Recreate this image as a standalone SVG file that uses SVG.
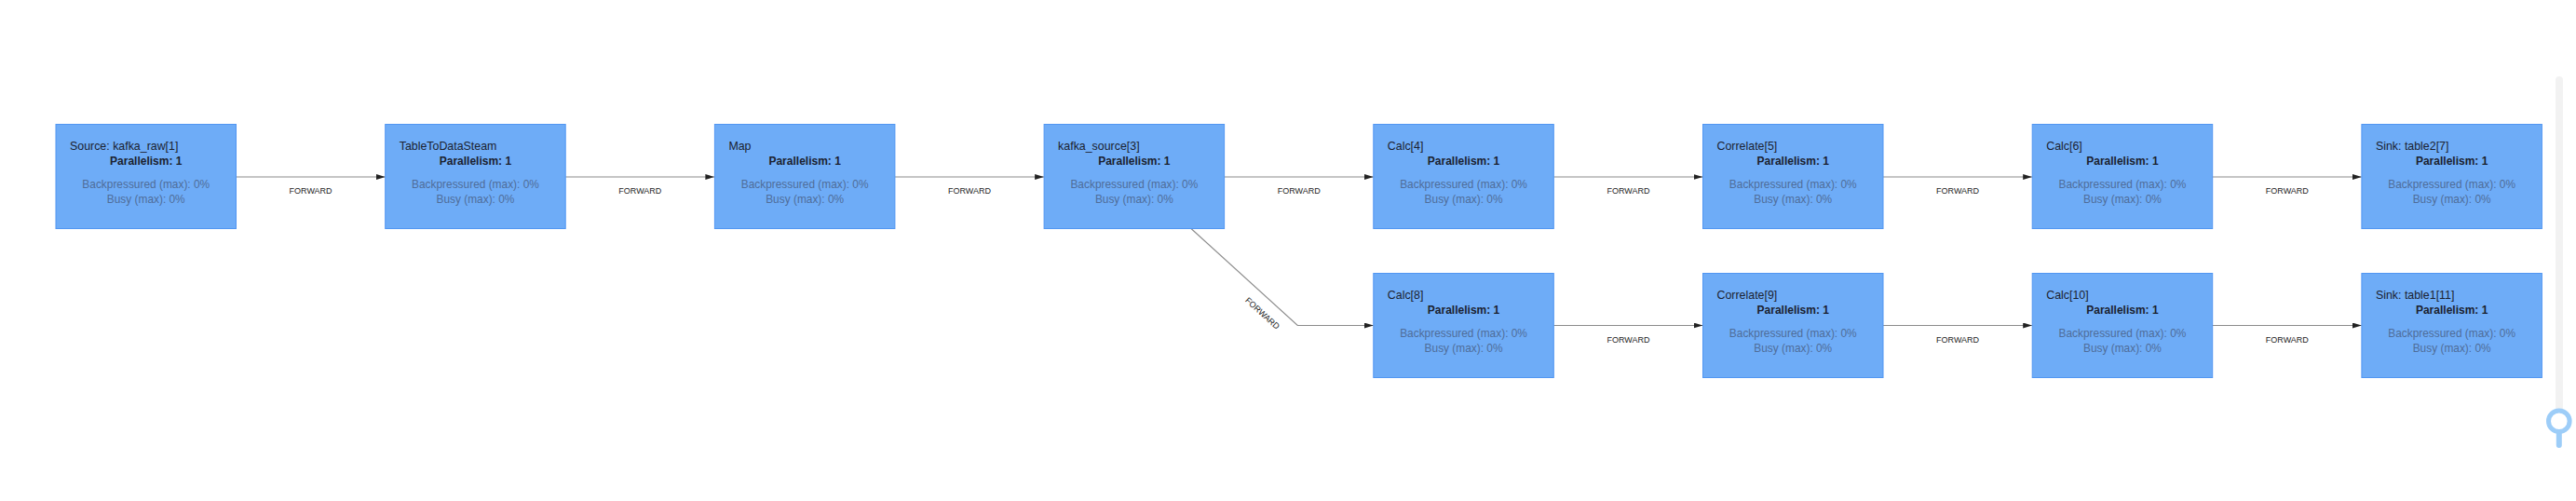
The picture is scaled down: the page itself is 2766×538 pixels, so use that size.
<svg xmlns="http://www.w3.org/2000/svg" width="2766" height="538" viewBox="0 0 2766 538">
<style>
.box{fill:#6eacf7;stroke:#5196f2;stroke-width:1}
.t{font-family:"Liberation Sans",Arial,sans-serif;font-size:12.4px;fill:#1b2230}
.p{font-family:"Liberation Sans",Arial,sans-serif;font-size:12px;font-weight:bold;fill:#1b2230;text-anchor:middle}
.s{font-family:"Liberation Sans",Arial,sans-serif;font-size:11.9px;fill:#4f6d99;text-anchor:middle}
.e{fill:none;stroke:#8c8c8c;stroke-width:1.2}
.l{font-family:"Liberation Sans",Arial,sans-serif;font-size:9px;fill:#222;text-anchor:middle}
</style>
<defs>
<marker id="arr" viewBox="0 0 10 6" refX="10" refY="3" markerWidth="10" markerHeight="6" markerUnits="userSpaceOnUse" orient="auto">
<path d="M0,0 L10,3 L0,6 z" fill="#222"/>
</marker>
</defs>
<rect width="2766" height="538" fill="#ffffff"/>
<g id="connectors">
<line class="e" x1="253.5" y1="190" x2="413.7" y2="190" marker-end="url(#arr)"/>
<text class="l" x="333.6" y="208">FORWARD</text>
<line class="e" x1="607.2" y1="190" x2="767.4" y2="190" marker-end="url(#arr)"/>
<text class="l" x="687.3" y="208">FORWARD</text>
<line class="e" x1="960.9" y1="190" x2="1121.1" y2="190" marker-end="url(#arr)"/>
<text class="l" x="1041" y="208">FORWARD</text>
<line class="e" x1="1314.6" y1="190" x2="1474.8" y2="190" marker-end="url(#arr)"/>
<text class="l" x="1394.7" y="208">FORWARD</text>
<line class="e" x1="1668.3" y1="190" x2="1828.5" y2="190" marker-end="url(#arr)"/>
<text class="l" x="1748.4" y="208">FORWARD</text>
<line class="e" x1="2022" y1="190" x2="2182.2" y2="190" marker-end="url(#arr)"/>
<text class="l" x="2102.1" y="208">FORWARD</text>
<line class="e" x1="2375.7" y1="190" x2="2535.9" y2="190" marker-end="url(#arr)"/>
<text class="l" x="2455.8" y="208">FORWARD</text>
<polyline class="e" points="1279,245.5 1393.3,349.5 1474.8,349.5" marker-end="url(#arr)"/>
<text class="l" transform="translate(1355.5,336.5) rotate(42.4)" y="3">FORWARD</text>
<line class="e" x1="1668.3" y1="349.5" x2="1828.5" y2="349.5" marker-end="url(#arr)"/>
<text class="l" x="1748.4" y="367.5">FORWARD</text>
<line class="e" x1="2022" y1="349.5" x2="2182.2" y2="349.5" marker-end="url(#arr)"/>
<text class="l" x="2102.1" y="367.5">FORWARD</text>
<line class="e" x1="2375.7" y1="349.5" x2="2535.9" y2="349.5" marker-end="url(#arr)"/>
<text class="l" x="2455.8" y="367.5">FORWARD</text>
</g>
<g id="n1" transform="translate(60,133.5)">
<rect class="box" width="193.5" height="112"/>
<text class="t" x="15" y="27.4">Source: kafka_raw[1]</text>
<text class="p" x="96.75" y="43.4">Parallelism: 1</text>
<text class="s" x="96.75" y="68.3">Backpressured (max): 0%</text>
<text class="s" x="96.75" y="84">Busy (max): 0%</text>
</g>
<g id="n2" transform="translate(413.7,133.5)">
<rect class="box" width="193.5" height="112"/>
<text class="t" x="15" y="27.4">TableToDataSteam</text>
<text class="p" x="96.75" y="43.4">Parallelism: 1</text>
<text class="s" x="96.75" y="68.3">Backpressured (max): 0%</text>
<text class="s" x="96.75" y="84">Busy (max): 0%</text>
</g>
<g id="n3" transform="translate(767.4,133.5)">
<rect class="box" width="193.5" height="112"/>
<text class="t" x="15" y="27.4">Map</text>
<text class="p" x="96.75" y="43.4">Parallelism: 1</text>
<text class="s" x="96.75" y="68.3">Backpressured (max): 0%</text>
<text class="s" x="96.75" y="84">Busy (max): 0%</text>
</g>
<g id="n4" transform="translate(1121.1,133.5)">
<rect class="box" width="193.5" height="112"/>
<text class="t" x="15" y="27.4">kafka_source[3]</text>
<text class="p" x="96.75" y="43.4">Parallelism: 1</text>
<text class="s" x="96.75" y="68.3">Backpressured (max): 0%</text>
<text class="s" x="96.75" y="84">Busy (max): 0%</text>
</g>
<g id="n5" transform="translate(1474.8,133.5)">
<rect class="box" width="193.5" height="112"/>
<text class="t" x="15" y="27.4">Calc[4]</text>
<text class="p" x="96.75" y="43.4">Parallelism: 1</text>
<text class="s" x="96.75" y="68.3">Backpressured (max): 0%</text>
<text class="s" x="96.75" y="84">Busy (max): 0%</text>
</g>
<g id="n6" transform="translate(1828.5,133.5)">
<rect class="box" width="193.5" height="112"/>
<text class="t" x="15" y="27.4">Correlate[5]</text>
<text class="p" x="96.75" y="43.4">Parallelism: 1</text>
<text class="s" x="96.75" y="68.3">Backpressured (max): 0%</text>
<text class="s" x="96.75" y="84">Busy (max): 0%</text>
</g>
<g id="n7" transform="translate(2182.2,133.5)">
<rect class="box" width="193.5" height="112"/>
<text class="t" x="15" y="27.4">Calc[6]</text>
<text class="p" x="96.75" y="43.4">Parallelism: 1</text>
<text class="s" x="96.75" y="68.3">Backpressured (max): 0%</text>
<text class="s" x="96.75" y="84">Busy (max): 0%</text>
</g>
<g id="n8" transform="translate(2535.9,133.5)">
<rect class="box" width="193.5" height="112"/>
<text class="t" x="15" y="27.4">Sink: table2[7]</text>
<text class="p" x="96.75" y="43.4">Parallelism: 1</text>
<text class="s" x="96.75" y="68.3">Backpressured (max): 0%</text>
<text class="s" x="96.75" y="84">Busy (max): 0%</text>
</g>
<g id="n9" transform="translate(1474.8,293.5)">
<rect class="box" width="193.5" height="112"/>
<text class="t" x="15" y="27.4">Calc[8]</text>
<text class="p" x="96.75" y="43.4">Parallelism: 1</text>
<text class="s" x="96.75" y="68.3">Backpressured (max): 0%</text>
<text class="s" x="96.75" y="84">Busy (max): 0%</text>
</g>
<g id="n10" transform="translate(1828.5,293.5)">
<rect class="box" width="193.5" height="112"/>
<text class="t" x="15" y="27.4">Correlate[9]</text>
<text class="p" x="96.75" y="43.4">Parallelism: 1</text>
<text class="s" x="96.75" y="68.3">Backpressured (max): 0%</text>
<text class="s" x="96.75" y="84">Busy (max): 0%</text>
</g>
<g id="n11" transform="translate(2182.2,293.5)">
<rect class="box" width="193.5" height="112"/>
<text class="t" x="15" y="27.4">Calc[10]</text>
<text class="p" x="96.75" y="43.4">Parallelism: 1</text>
<text class="s" x="96.75" y="68.3">Backpressured (max): 0%</text>
<text class="s" x="96.75" y="84">Busy (max): 0%</text>
</g>
<g id="n12" transform="translate(2535.9,293.5)">
<rect class="box" width="193.5" height="112"/>
<text class="t" x="15" y="27.4">Sink: table1[11]</text>
<text class="p" x="96.75" y="43.4">Parallelism: 1</text>
<text class="s" x="96.75" y="68.3">Backpressured (max): 0%</text>
<text class="s" x="96.75" y="84">Busy (max): 0%</text>
</g>
<g id="zoom-slider">
<rect x="2744" y="82" width="8" height="366" rx="4" fill="#f2f2f2"/>
<line x1="2747.8" y1="466" x2="2747.8" y2="478" stroke="#9dcdf8" stroke-width="6" stroke-linecap="round"/>
<circle cx="2747.8" cy="452.3" r="11.3" fill="#ffffff" stroke="#9dcdf8" stroke-width="5"/>
</g>
</svg>
